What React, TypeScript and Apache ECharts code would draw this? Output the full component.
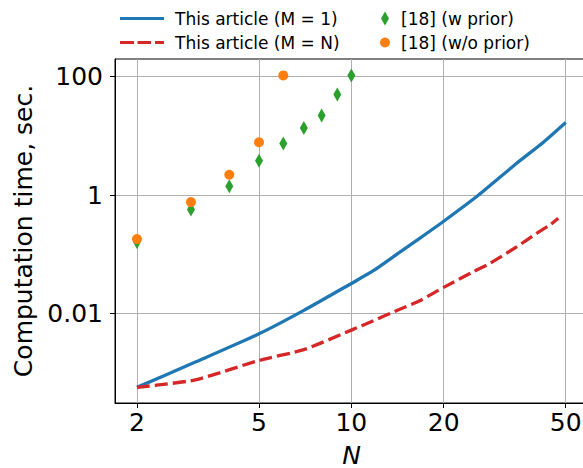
import React, { useEffect, useRef } from "react";
import * as echarts from "echarts";

// ---- data ----
const legendM1 = "This article (M = 1)";
const legendMN = "This article (M = N)";
const legendW = "[18] (w prior)";
const legendWo = "[18] (w/o prior)";

const blueN = [2, 3.1, 5, 7, 10, 11.8, 14.2, 16.7, 20, 26, 34.6, 42.3, 50];
const blueT = [0.00056, 0.0015, 0.0045, 0.0112, 0.032, 0.0525, 0.103, 0.185, 0.36, 1.0, 3.44, 7.8, 16.8];

const redN = [2, 3.1, 5, 7, 10, 11.8, 14.2, 16.7, 20, 25, 28.3, 34.6, 40.2, 44.4, 47.3];
const redT = [0.00056, 0.00075, 0.0016, 0.00243, 0.0052, 0.0075, 0.0114, 0.0163, 0.0275, 0.0505, 0.07, 0.133, 0.225, 0.311, 0.404];

const greenN = [2, 3, 4, 5, 6, 7, 8, 9, 10];
const greenT = [0.16, 0.57, 1.4, 3.8, 7.4, 13.6, 22, 50, 105];

const orangeN = [2, 3, 4, 5, 6];
const orangeT = [0.18, 0.76, 2.2, 7.8, 105];

const xTicks = [2, 5, 10, 20, 50];
const xTickLabels = ["2", "5", "10", "20", "50"];
const yTicks = [0.01, 1, 100];
const yTickLabels = ["0.01", "1", "100"];

const FONT = "DejaVu Sans";

function nearestLabel(v: number, ticks: number[], labels: string[]) {
  let best = 0;
  let bd = Infinity;
  ticks.forEach((t, i) => {
    const d = Math.abs(Math.log10(t) - Math.log10(v));
    if (d < bd) {
      bd = d;
      best = i;
    }
  });
  return labels[best];
}

export default function App() {
  const ref = useRef<HTMLDivElement>(null);
  useEffect(() => {
    document.body.style.margin = "0";
    const chart = echarts.init(ref.current!, null, { renderer: "svg" });
    const zip = (a: number[], b: number[]) => a.map((x, i) => [x, b[i]]);
    chart.setOption({
      animation: false,
      backgroundColor: "#ffffff",
      grid: {
        left: 115,
        top: 59,
        width: 473,
        height: 344,
        show: true,
        borderColor: "#000",
        borderWidth: 1,
        containLabel: false,
        outerBoundsMode: "none",
      },
      legend: [
        {
          orient: "vertical",
          left: 115,
          top: 5,
          itemWidth: 44,
          itemHeight: 14,
          itemGap: 7,
          textStyle: { fontFamily: FONT, fontSize: 17, color: "#000", padding: [0, 0, 0, 6] },
          data: [
            { name: legendM1, icon: "path://M0,0 H44 V3.2 H0 Z" },
            {
              name: legendMN,
              icon: "path://M0,0 H14 V3.2 H0 Z M17.5,0 H31 V3.2 H17.5 Z M35,0 H44 V3.2 H35 Z",
            },
          ],
        },
        {
          orient: "vertical",
          left: 375,
          top: 5,
          itemWidth: 10,
          itemHeight: 14,
          itemGap: 7,
          textStyle: { fontFamily: FONT, fontSize: 17, color: "#000", padding: [0, 0, 0, 6] },
          data: [
            { name: legendW, icon: "path://M0,-7 L4,0 L0,7 L-4,0 Z" },
            { name: legendWo, icon: "circle" },
          ],
        },
      ],
      xAxis: {
        type: "log",
        logBase: 10,
        min: 1.696,
        max: 59.1,
        name: "N",
        nameLocation: "middle",
        nameGap: 42,
        nameTextStyle: { fontFamily: FONT, fontSize: 25, lineHeight: 20, fontStyle: "italic", color: "#000" },
        axisLine: { show: true, lineStyle: { color: "#000", width: 1 } },
        axisTick: { show: true, inside: false, length: 5, customValues: xTicks, lineStyle: { color: "#000" } },
        axisLabel: {
          customValues: xTicks,
          margin: 7,
          fontFamily: FONT,
          fontSize: 25,
          color: "#000",
          formatter: (v: number) => nearestLabel(v, xTicks, xTickLabels),
        },
        splitLine: { show: true, lineStyle: { color: "#b0b0b0", width: 1 } },
        minorTick: { show: false },
        minorSplitLine: { show: false },
      },
      yAxis: {
        type: "log",
        logBase: 10,
        min: 0.000305,
        max: 199,
        name: "Computation time, sec.",
        nameLocation: "middle",
        nameGap: 76,
        nameTextStyle: { fontFamily: FONT, fontSize: 25, color: "#000" },
        axisLine: { show: true, lineStyle: { color: "#000", width: 1 } },
        axisTick: { show: true, inside: false, length: 5, customValues: yTicks, lineStyle: { color: "#000" } },
        axisLabel: {
          customValues: yTicks,
          margin: 12,
          fontFamily: FONT,
          fontSize: 25,
          color: "#000",
          formatter: (v: number) => nearestLabel(v, yTicks, yTickLabels),
        },
        splitLine: { show: true, lineStyle: { color: "#b0b0b0", width: 1 } },
        minorTick: { show: false },
        minorSplitLine: { show: false },
      },
      series: [
        {
          name: legendM1,
          type: "line",
          data: zip(blueN, blueT),
          smooth: 0.2,
          showSymbol: false,
          symbol: "none",
          lineStyle: { color: "#1f77b4", width: 3.3 },
          itemStyle: { color: "#1f77b4" },
        },
        {
          name: legendMN,
          type: "line",
          data: zip(redN, redT),
          smooth: 0.2,
          showSymbol: false,
          symbol: "none",
          lineStyle: { color: "#d62728", width: 3.3, type: [13, 5] },
          itemStyle: { color: "#d62728" },
        },
        {
          name: legendW,
          type: "scatter",
          data: zip(greenN, greenT),
          symbol: "diamond",
          symbolSize: [8, 14],
          itemStyle: { color: "#2ca02c", opacity: 1 },
        },
        {
          name: legendWo,
          type: "scatter",
          data: zip(orangeN, orangeT),
          symbol: "circle",
          symbolSize: 10,
          itemStyle: { color: "#ff7f0e", opacity: 1 },
        },
      ],
    });
    return () => chart.dispose();
  }, []);
  return <div ref={ref} style={{ width: 583, height: 468 }} />;
}
